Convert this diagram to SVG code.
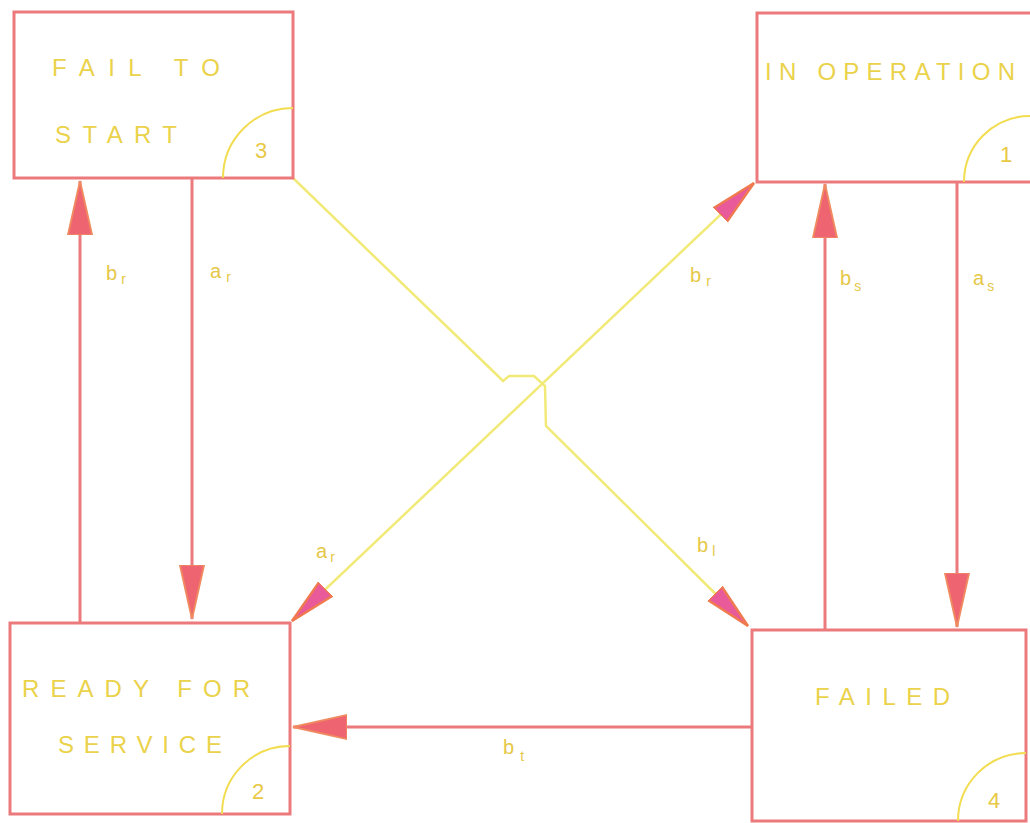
<svg xmlns="http://www.w3.org/2000/svg" width="1030" height="823" viewBox="0 0 1030 823">
  <style>
    .box { fill: #ffffff; stroke: #ec7a7c; stroke-width: 3; }
    .arc { fill: none; stroke: #f2dc50; stroke-width: 2; }
    .lbl { font-family: "Liberation Sans", Arial, sans-serif; font-size: 24px; fill: #ead24a; }
    .num { font-family: "Liberation Sans", Arial, sans-serif; font-size: 22px; fill: #e8c844; }
    .tr  { font-family: "Liberation Sans", Arial, sans-serif; font-size: 20px; fill: #e6c848; }
    .sub { font-size: 14px; }
    .red { fill: none; stroke: #ec7a7c; stroke-width: 3; }
    .yel { fill: none; stroke: #f2ea78; stroke-width: 2.5; }
  </style>
  <defs>
    <marker id="headRed" viewBox="0 0 60 30" refX="58" refY="15" markerWidth="56" markerHeight="28" markerUnits="userSpaceOnUse" orient="auto">
      <path d="M0,2 L58,15 L0,28 Z" fill="#ee6470" stroke="#f08a60" stroke-width="2"/>
    </marker>
    <marker id="headPink" viewBox="0 0 60 30" refX="58" refY="15" markerWidth="48" markerHeight="26" markerUnits="userSpaceOnUse" orient="auto">
      <path d="M0,3 L58,15 L0,27 Z" fill="#e85a9a" stroke="#f07a50" stroke-width="3"/>
    </marker>
    <marker id="headPinkStart" viewBox="0 0 60 30" refX="58" refY="15" markerWidth="48" markerHeight="26" markerUnits="userSpaceOnUse" orient="auto-start-reverse">
      <path d="M0,3 L58,15 L0,27 Z" fill="#e85a9a" stroke="#f07a50" stroke-width="3"/>
    </marker>
  </defs>

  <rect width="1030" height="823" fill="#ffffff"/>

  <!-- transitions -->
  <g id="connectors">
    <!-- 2 -> 3 -->
    <line class="red" x1="80" y1="622" x2="80" y2="181" marker-end="url(#headRed)"/>
    <!-- 3 -> 2 -->
    <line class="red" x1="192" y1="178" x2="192" y2="619" marker-end="url(#headRed)"/>
    <!-- 4 -> 1 -->
    <line class="red" x1="825" y1="630" x2="825" y2="184" marker-end="url(#headRed)"/>
    <!-- 1 -> 4 -->
    <line class="red" x1="957" y1="182" x2="957" y2="627" marker-end="url(#headRed)"/>
    <!-- 4 -> 2 -->
    <line class="red" x1="752" y1="727" x2="293" y2="727" marker-end="url(#headRed)"/>
    <!-- 3 -> 4, hopping over the other diagonal -->
    <path class="yel" d="M293,178 L498,376 L503,381 L509,376 L534,376 L545,386 L546,426 L748,626" marker-end="url(#headPink)"/>
    <!-- 2 <-> 1 -->
    <line class="yel" x1="292" y1="621" x2="754" y2="183" marker-start="url(#headPinkStart)" marker-end="url(#headPink)"/>

    <text class="tr" x="106" y="280">b<tspan class="sub" dx="4" dy="4">r</tspan></text>
    <text class="tr" x="210" y="278">a<tspan class="sub" dx="5" dy="4">r</tspan></text>
    <text class="tr" x="690" y="282">b<tspan class="sub" dx="5" dy="4">r</tspan></text>
    <text class="tr" x="840" y="285">b<tspan class="sub" dx="3" dy="6">s</tspan></text>
    <text class="tr" x="973" y="285">a<tspan class="sub" dx="3" dy="6">s</tspan></text>
    <text class="tr" x="316" y="558">a<tspan class="sub" dx="3" dy="4">r</tspan></text>
    <text class="tr" x="697" y="552">b<tspan class="sub" dx="4" dy="4">l</tspan></text>
    <text class="tr" x="503" y="754">b<tspan class="sub" dx="6" dy="7">t</tspan></text>
  </g>

  <g id="state3">
    <rect class="box" x="14" y="12" width="279" height="166"/>
    <text class="lbl" x="52" y="76" textLength="168" lengthAdjust="spacing">FAIL  TO</text>
    <text class="lbl" x="55" y="143" textLength="122" lengthAdjust="spacing">START</text>
    <path class="arc" d="M223,178 A70,70 0 0 1 293,108"/>
    <text class="num" x="255" y="158">3</text>
  </g>

  <g id="state1">
    <rect class="box" x="757" y="13" width="280" height="169"/>
    <text class="lbl" x="765" y="80" textLength="250" lengthAdjust="spacing">IN OPERATION</text>
    <path class="arc" d="M964,182 A66,66 0 0 1 1030,116"/>
    <text class="num" x="1000" y="162">1</text>
  </g>

  <g id="state2">
    <rect class="box" x="10" y="623" width="280" height="191"/>
    <text class="lbl" x="22" y="697" textLength="228" lengthAdjust="spacing">READY FOR</text>
    <text class="lbl" x="58" y="753" textLength="164" lengthAdjust="spacing">SERVICE</text>
    <path class="arc" d="M222,814 A68,68 0 0 1 290,746"/>
    <text class="num" x="252" y="799">2</text>
  </g>

  <g id="state4">
    <rect class="box" x="752" y="630" width="274" height="191"/>
    <text class="lbl" x="815" y="705" textLength="135" lengthAdjust="spacing">FAILED</text>
    <path class="arc" d="M958,821 A68,68 0 0 1 1026,753"/>
    <text class="num" x="988" y="808">4</text>
  </g>
</svg>
